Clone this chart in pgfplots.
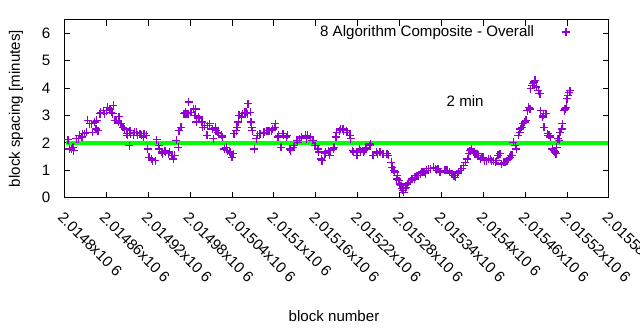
\documentclass[border=0pt]{standalone}
\usepackage{fontspec}
\setmainfont{Liberation Sans}
\usepackage{pgfplots}
\usepackage{pgfplotstable}
\pgfplotsset{compat=1.18}
\definecolor{gpviolet}{RGB}{148,0,211}
\definecolor{gpgreen}{RGB}{0,255,0}
\pgfplotstableread{
x y
2014805 2.11
2014807 1.78
2014810 1.78
2014812 1.84
2014813 1.72
2014817 2.15
2014820 2.15
2014821 2.27
2014825 2.21
2014826 2.33
2014829 2.33
2014832 2.39
2014833 2.82
2014836 2.70
2014839 2.70
2014840 2.39
2014843 2.76
2014845 2.51
2014846 2.82
2014848 2.45
2014851 3.06
2014852 3.12
2014856 3.18
2014857 3.06
2014860 3.18
2014862 3.30
2014865 3.24
2014867 3.12
2014869 3.06
2014870 3.37
2014872 2.82
2014874 2.82
2014877 2.76
2014878 2.96
2014881 2.70
2014884 2.57
2014886 2.51
2014889 2.33
2014890 2.27
2014893 1.90
2014894 2.45
2014895 2.33
2014899 2.27
2014900 2.39
2014903 2.39
2014905 2.27
2014908 2.33
2014910 2.27
2014913 2.21
2014914 2.33
2014917 2.27
2014919 1.78
2014921 1.47
2014925 1.41
2014926 1.35
2014930 1.35
2014932 2.11
2014935 1.90
2014936 1.78
2014939 1.66
2014940 1.60
2014944 1.72
2014945 1.66
2014949 1.60
2014950 1.66
2014954 1.54
2014956 1.41
2014958 1.54
2014960 2.09
2014963 1.84
2014964 2.45
2014967 2.57
2014971 3.06
2014973 3.12
2014974 3.06
2014977 3.06
2014978 3.49
2014981 3.12
2014985 3.24
2014987 3.00
2014988 3.24
2014989 2.76
2014992 2.94
2014993 2.88
2014997 2.76
2014998 2.57
2015001 2.63
2015004 2.27
2015005 2.63
2015008 2.70
2015012 2.51
2015013 2.15
2015016 2.57
2015017 2.45
2015020 2.39
2015021 2.33
2015025 2.27
2015026 2.21
2015029 1.78
2015032 1.84
2015033 1.72
2015037 1.66
2015038 1.60
2015040 1.47
2015042 1.60
2015043 2.33
2015046 2.45
2015047 2.57
2015049 2.76
2015050 3.00
2015054 2.94
2015055 3.06
2015058 3.12
2015060 3.12
2015062 3.06
2015063 3.43
2015066 3.12
2015067 2.76
2015068 2.57
2015069 2.45
2015072 1.78
2015075 2.15
2015076 2.27
2015080 2.33
2015081 2.33
2015085 2.33
2015086 2.39
2015090 2.45
2015093 2.45
2015097 2.45
2015098 2.51
2015101 2.57
2015102 2.70
2015106 2.21
2015107 2.27
2015110 1.84
2015113 2.33
2015114 2.27
2015118 2.21
2015119 2.27
2015123 1.78
2015124 1.72
2015128 1.84
2015129 1.90
2015133 2.09
2015134 2.02
2015137 2.15
2015140 2.21
2015145 2.27
2015147 2.15
2015148 2.27
2015152 2.21
2015155 2.09
2015156 2.09
2015159 1.90
2015160 1.90
2015163 1.78
2015164 1.66
2015168 1.41
2015169 1.35
2015173 1.60
2015174 1.66
2015178 1.72
2015180 1.54
2015181 1.72
2015185 1.78
2015186 1.84
2015189 2.21
2015190 2.39
2015194 2.45
2015195 2.51
2015199 2.51
2015200 2.45
2015204 2.45
2015205 2.39
2015209 2.27
2015210 2.15
2015213 1.72
2015214 1.66
2015218 1.66
2015219 1.54
2015223 1.78
2015224 1.72
2015228 1.66
2015229 1.72
2015232 1.84
2015233 1.78
2015237 1.90
2015238 1.96
2015242 1.54
2015243 1.54
2015247 1.66
2015248 1.60
2015251 1.66
2015252 1.66
2015256 1.60
2015257 1.60
2015262 1.60
2015264 1.54
2015268 1.29
2015269 1.11
2015272 0.99
2015273 0.93
2015276 0.68
2015277 0.80
2015279 0.62
2015280 0.50
2015282 0.44
2015283 0.32
2015285 0.26
2015286 0.19
2015288 0.32
2015289 0.38
2015291 0.50
2015293 0.56
2015296 0.62
2015298 0.68
2015301 0.68
2015302 0.74
2015305 0.80
2015307 0.80
2015310 0.87
2015312 0.93
2015315 0.93
2015317 0.87
2015319 0.99
2015321 1.05
2015324 1.05
2015329 1.11
2015331 1.05
2015333 0.99
2015335 1.05
2015338 0.93
2015345 0.99
2015348 0.99
2015352 0.93
2015355 0.87
2015358 0.80
2015360 0.74
2015363 0.87
2015364 0.93
2015367 0.99
2015369 1.05
2015372 1.17
2015374 1.29
2015377 1.41
2015379 1.60
2015381 1.72
2015383 1.78
2015386 1.66
2015388 1.60
2015391 1.60
2015393 1.54
2015396 1.41
2015398 1.47
2015400 1.47
2015402 1.35
2015405 1.35
2015407 1.41
2015410 1.41
2015412 1.35
2015415 1.35
2015417 1.29
2015419 1.35
2015421 1.54
2015424 1.60
2015426 1.23
2015429 1.29
2015431 1.29
2015434 1.35
2015436 1.41
2015438 1.47
2015439 1.54
2015441 1.54
2015443 2.02
2015446 1.90
2015447 1.78
2015450 2.27
2015452 2.39
2015453 2.51
2015455 2.57
2015457 2.70
2015459 2.76
2015461 2.82
2015463 3.18
2015465 3.30
2015467 3.24
2015468 3.98
2015470 4.10
2015471 4.16
2015473 4.22
2015474 4.28
2015476 4.04
2015479 3.91
2015480 3.79
2015481 3.79
2015482 3.18
2015485 2.94
2015486 3.00
2015487 2.57
2015489 3.06
2015490 3.06
2015492 2.33
2015493 2.27
2015495 2.27
2015496 2.21
2015499 1.78
2015501 1.72
2015502 1.66
2015504 1.60
2015505 1.84
2015507 2.15
2015509 2.09
2015510 2.39
2015512 2.51
2015513 2.70
2015516 3.18
2015517 3.24
2015519 3.30
2015520 3.61
2015521 3.73
2015523 3.85
2015524 3.91
}\spacingdata
\begin{document}
\fontsize{15.1bp}{18bp}\selectfont
\begin{tikzpicture}
\begin{axis}[
  at={(0,0)}, anchor=south west,
  width=544.5bp, height=178bp, scale only axis,
  xmin=2014800, xmax=2015580, ymin=0, ymax=6.5,
  scaled x ticks=false,
  /pgf/number format/assume math mode=true,
  axis line style={line width=1bp},
  tick style={black, line width=1bp},
  major tick length=6bp,
  xtick={2014800,2014860,2014920,2014980,2015040,2015100,2015160,2015220,2015280,2015340,2015400,2015460,2015520,2015580},
  xticklabels={2.0148x10 6,2.01486x10 6,2.01492x10 6,2.01498x10 6,2.01504x10 6,2.0151x10 6,2.01516x10 6,2.01522x10 6,2.01528x10 6,2.01534x10 6,2.0154x10 6,2.01546x10 6,2.01552x10 6,2.01558x10 6},
  xticklabel style={rotate=-45, anchor=north west, inner sep=0pt},
  xticklabel shift=13bp,
  ytick={0,1,2,3,4,5,6},
  yticklabel style={inner sep=0pt},
  yticklabel shift=14bp,
  xlabel={block number},
  every axis x label/.style={at={(axis description cs:0.495,-0.694)}, anchor=base, inner sep=0pt},
  ylabel={block spacing [minutes]},
  every axis y label/.style={at={(axis description cs:-0.0757,0.5)}, rotate=90, anchor=south, inner sep=0pt},
  legend plot pos=right,
  legend style={draw=none, fill=none, at={(axis description cs:0.929,0.93)}, anchor=east, legend cell align=right, inner sep=0pt, column sep=26bp},
  clip=false,
]
\addplot[only marks, mark=+, mark size=4bp, color=gpviolet, mark options={draw=gpviolet, solid, line width=1.3bp}] table[x=x, y=y] {\spacingdata};
\addlegendentry{8 Algorithm Composite - Overall}
\addplot[gpgreen, line width=4bp, forget plot] coordinates {(2014802,2) (2015578,2)};
\node[anchor=base, inner sep=0pt] at (axis cs:2015374,3.32) {2 min};
\end{axis}
\pgfresetboundingbox
\path[use as bounding box] (-64.5bp,-132.5bp) rectangle (575.5bp,197.6bp);
\end{tikzpicture}
\end{document}
